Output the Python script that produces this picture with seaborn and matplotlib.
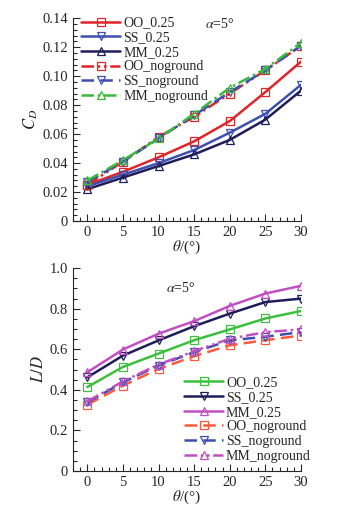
import matplotlib
matplotlib.use('Agg')
import matplotlib.pyplot as plt
import seaborn as sns
import pandas as pd
from matplotlib.ticker import MultipleLocator, FuncFormatter

theta = [0, 5, 10, 15, 20, 25, 30]

# drag coefficient C_D
cd_oo_025 = [0.025, 0.034, 0.044, 0.055, 0.069, 0.089, 0.110]
cd_ss_025 = [0.024, 0.032, 0.040, 0.049, 0.061, 0.074, 0.094]
cd_mm_025 = [0.022, 0.030, 0.038, 0.046, 0.056, 0.070, 0.090]
cd_oo_ng = [0.025, 0.041, 0.058, 0.072, 0.088, 0.104, 0.121]
cd_ss_ng = [0.027, 0.041, 0.057, 0.073, 0.089, 0.104, 0.121]
cd_mm_ng = [0.028, 0.042, 0.057, 0.074, 0.092, 0.105, 0.123]

# lift-drag ratio L/D
ld_oo_025 = [0.414, 0.513, 0.579, 0.645, 0.698, 0.752, 0.789]
ld_ss_025 = [0.462, 0.569, 0.644, 0.714, 0.776, 0.833, 0.850]
ld_mm_025 = [0.487, 0.599, 0.677, 0.739, 0.814, 0.875, 0.913]
ld_oo_ng = [0.327, 0.421, 0.503, 0.566, 0.620, 0.645, 0.668]
ld_ss_ng = [0.338, 0.437, 0.520, 0.586, 0.644, 0.662, 0.685]
ld_mm_ng = [0.343, 0.442, 0.525, 0.591, 0.652, 0.685, 0.698]

names = ['OO_0.25', 'SS_0.25', 'MM_0.25', 'OO_noground', 'SS_noground', 'MM_noground']

sns.set_style('ticks')
plt.rcParams['font.family'] = ['Liberation Serif', 'DejaVu Serif']
plt.rcParams['mathtext.fontset'] = 'stix'

dashdotdot = (0, (5, 1.5, 1, 1.5, 1, 1.5))
dashed = (0, (5, 2.5))
dashdot = (0, (5, 1.5, 1, 1.5))

top_styles = {
    'OO_0.25': ('#e0252a', '-', 's'),
    'SS_0.25': ('#3d4fb0', '-', 'v'),
    'MM_0.25': ('#1e1d5a', '-', '^'),
    'OO_noground': ('#e0252a', dashdotdot, 's'),
    'SS_noground': ('#3d4fb0', dashed, 'v'),
    'MM_noground': ('#3cb83c', dashdot, '^'),
}
bot_styles = {
    'OO_0.25': ('#3cbf3c', '-', 's'),
    'SS_0.25': ('#1e1d5a', '-', 'v'),
    'MM_0.25': ('#c24fc2', '-', '^'),
    'OO_noground': ('#ff5a3c', dashed, 's'),
    'SS_noground': ('#3d4fb0', dashed, 'v'),
    'MM_noground': ('#c24fc2', dashdotdot, '^'),
}

cd_data = [cd_oo_025, cd_ss_025, cd_mm_025, cd_oo_ng, cd_ss_ng, cd_mm_ng]
ld_data = [ld_oo_025, ld_ss_025, ld_mm_025, ld_oo_ng, ld_ss_ng, ld_mm_ng]


def draw(ax, data, styles):
    for name, vals in zip(names, data):
        col, ls, mk = styles[name]
        df = pd.DataFrame({'theta': theta, 'val': vals})
        sns.lineplot(data=df, x='theta', y='val', ax=ax, color=col, linestyle=ls,
                     linewidth=1.8, marker=mk, markersize=5.5, markerfacecolor='none',
                     markeredgecolor=col, markeredgewidth=0.9, label=name)
    ax.set_xlim(-2, 30)
    ax.xaxis.set_major_locator(MultipleLocator(5))
    ax.xaxis.set_minor_locator(MultipleLocator(1))
    ax.tick_params(which='both', direction='in', labelsize=10.5)
    ax.tick_params(which='major', length=5, width=0.8)
    ax.tick_params(which='minor', length=3, width=0.8)
    sns.despine(ax=ax)
    ax.set_xlabel(r'$\theta$/(°)', fontsize=11, labelpad=0)


fig = plt.figure(figsize=(3.4, 5.07), dpi=100)
ax1 = fig.add_axes([0.215, 0.564, 0.67, 0.400])
ax2 = fig.add_axes([0.215, 0.071, 0.67, 0.400])

draw(ax1, cd_data, top_styles)
ax1.set_ylim(0, 0.14)
ax1.yaxis.set_major_locator(MultipleLocator(0.02))
ax1.yaxis.set_minor_locator(MultipleLocator(0.004))
ax1.yaxis.set_major_formatter(FuncFormatter(lambda v, p: '0' if abs(v) < 1e-9 else f'{v:.2f}'))
ax1.set_ylabel(r'$C_D$', fontsize=12, labelpad=2)
ax1.text(0.58, 0.97, r'$\alpha$=5°', transform=ax1.transAxes, fontsize=10, ha='left', va='center')
ax1.legend(loc='upper left', bbox_to_anchor=(0.0, 1.05), frameon=False, fontsize=10,
           handlelength=2.8, handletextpad=0.2, labelspacing=0.12, borderaxespad=0.2)

draw(ax2, ld_data, bot_styles)
ax2.set_ylim(0, 1.0)
ax2.yaxis.set_major_locator(MultipleLocator(0.2))
ax2.yaxis.set_minor_locator(MultipleLocator(0.05))
ax2.yaxis.set_major_formatter(FuncFormatter(lambda v, p: '0' if abs(v) < 1e-9 else f'{v:.1f}'))
ax2.set_ylabel(r'$L/D$', fontsize=12, labelpad=2)
ax2.text(0.41, 0.9, r'$\alpha$=5°', transform=ax2.transAxes, fontsize=10, ha='left', va='center')
ax2.legend(loc='lower right', bbox_to_anchor=(1.08, 0.0), frameon=False, fontsize=10,
           handlelength=2.8, handletextpad=0.2, labelspacing=0.12, borderaxespad=0.2)

fig.savefig('out.png', dpi=100)
